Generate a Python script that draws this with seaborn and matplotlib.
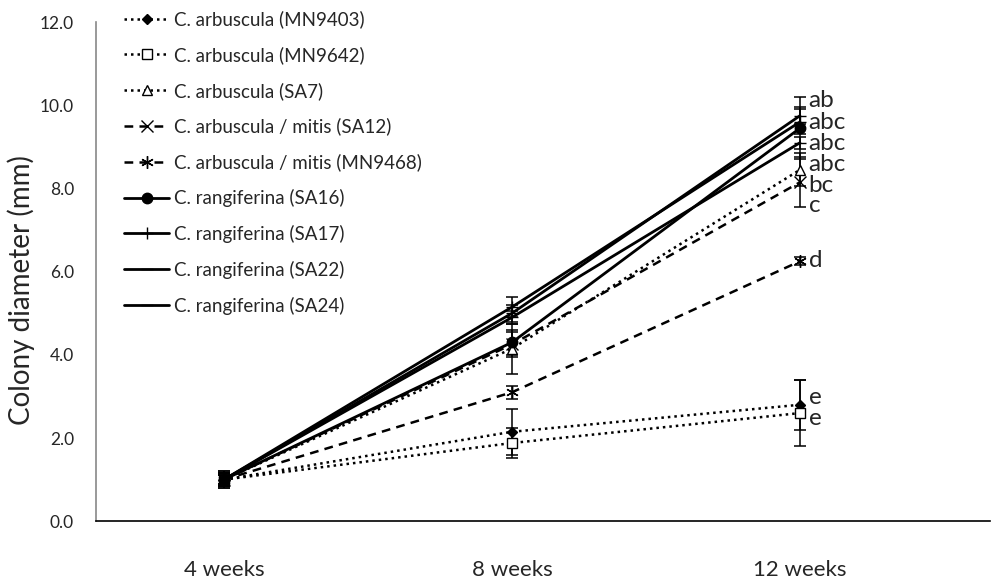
import matplotlib
matplotlib.use("Agg")
import matplotlib.pyplot as plt
import seaborn as sns
import pandas as pd

# Sampling times
weeks = ["4 weeks", "8 weeks", "12 weeks"]

# Mean colony diameter (mm) per strain
mn9403 = [1.0, 2.15, 2.80]
mn9642 = [1.0, 1.88, 2.60]
sa7 = [1.0, 4.15, 8.45]
sa12 = [1.0, 4.25, 8.15]
mn9468 = [1.0, 3.10, 6.25]
sa16 = [1.0, 4.30, 9.45]
sa17 = [1.0, 5.15, 9.60]
sa22 = [1.0, 5.00, 9.75]
sa24 = [1.0, 4.90, 9.10]

# Error bars
err_mn9403 = [0.15, 0.55, 0.60]
err_mn9642 = [0.15, 0.35, 0.80]
err_sa7 = [0.20, 0.60, 0.40]
err_sa12 = [0.15, 0.30, 0.60]
err_mn9468 = [0.10, 0.15, 0.10]
err_sa16 = [0.15, 0.30, 0.75]
err_sa17 = [0.20, 0.25, 0.30]
err_sa22 = [0.10, 0.20, 0.20]
err_sa24 = [0.10, 0.15, 0.15]

names = ["C. arbuscula (MN9403)", "C. arbuscula (MN9642)", "C. arbuscula (SA7)",
         "C. arbuscula / mitis (SA12)", "C. arbuscula / mitis (MN9468)",
         "C. rangiferina (SA16)", "C. rangiferina (SA17)",
         "C. rangiferina (SA22)", "C. rangiferina (SA24)"]
means = [mn9403, mn9642, sa7, sa12, mn9468, sa16, sa17, sa22, sa24]
errs = [err_mn9403, err_mn9642, err_sa7, err_sa12, err_mn9468,
        err_sa16, err_sa17, err_sa22, err_sa24]

# significance letters at 12 weeks and where they sit
letters = ["ab", "abc", "abc", "abc", "bc", "c", "d", "e", "e"]
letter_y = [10.12, 9.59, 9.09, 8.58, 8.08, 7.60, 6.28, 2.98, 2.48]

rows = []
for n, m, e in zip(names, means, errs):
    for i, w in enumerate(weeks):
        rows.append({"strain": n, "pos": i, "diam": m[i], "err": e[i]})
df = pd.DataFrame(rows)

dot = (0, (1, 1.6))
dash = (0, (3.5, 2.5))
styles = {
    names[0]: dict(ls=dot, lw=1.8, marker="D", ms=5.5, mfc="black"),
    names[1]: dict(ls=dot, lw=1.8, marker="s", ms=7.5, mfc="white"),
    names[2]: dict(ls=dot, lw=1.8, marker="^", ms=7.5, mfc="white"),
    names[3]: dict(ls=dash, lw=1.8, marker="x", ms=8, mfc="black"),
    names[4]: dict(ls=dash, lw=1.8, marker=(6, 2, 0), ms=9, mfc="black"),
    names[5]: dict(ls="-", lw=2.0, marker="o", ms=7.5, mfc="black"),
    names[6]: dict(ls="-", lw=2.0, marker="+", ms=9, mfc="black"),
    names[7]: dict(ls="-", lw=2.0, marker="_", ms=9, mfc="black"),
    names[8]: dict(ls="-", lw=2.0, marker="_", ms=9, mfc="black"),
}

sns.set_style("white")
plt.rcParams["font.family"] = ["Lato", "DejaVu Sans"]

fig = plt.figure(figsize=(9.91, 5.83), dpi=100)
ax = fig.add_axes([0.097, 0.106, 0.902, 0.856])

for n in names:
    sub = df[df["strain"] == n]
    st = styles[n]
    ax.errorbar(sub["pos"], sub["diam"], yerr=sub["err"], fmt="none",
                ecolor="black", elinewidth=1.1, capsize=4.5, capthick=1.1, zorder=2)
    sns.lineplot(data=sub, x="pos", y="diam", ax=ax, color="black",
                 linestyle=st["ls"], linewidth=st["lw"], marker=st["marker"],
                 markersize=st["ms"], markerfacecolor=st["mfc"],
                 markeredgecolor="black", markeredgewidth=1.0,
                 label=n, zorder=3)

for t, y in zip(letters, letter_y):
    ax.text(2.03, y, t, fontsize=17.5, va="center", ha="left")

ax.set_xlim(-0.444, 2.66)
ax.set_ylim(0, 12)
ax.set_xticks(range(len(weeks)))
ax.set_xticklabels(weeks, fontsize=16)
ax.set_yticks([0, 2, 4, 6, 8, 10, 12])
ax.set_yticklabels([f"{v:.1f}" for v in [0, 2, 4, 6, 8, 10, 12]], fontsize=12.5)
ax.tick_params(axis="x", length=0, pad=28)
ax.tick_params(axis="y", length=0, pad=16)
ax.set_xlabel("")
ax.set_ylabel("Colony diameter (mm)", fontsize=20)
ax.yaxis.set_label_coords(-0.068, 0.463)

for s in ["top", "right"]:
    ax.spines[s].set_visible(False)
ax.spines["left"].set_color("#888888")
ax.spines["bottom"].set_color("black")
ax.spines["left"].set_linewidth(1.2)
ax.spines["bottom"].set_linewidth(1.2)

ax.legend(loc="upper left", bbox_to_anchor=(0.118, 0.995), bbox_transform=fig.transFigure,
          frameon=False, fontsize=13.5, handlelength=2.4, handletextpad=0.25,
          labelspacing=0.95, borderaxespad=0)

fig.savefig("out.png", dpi=100)
